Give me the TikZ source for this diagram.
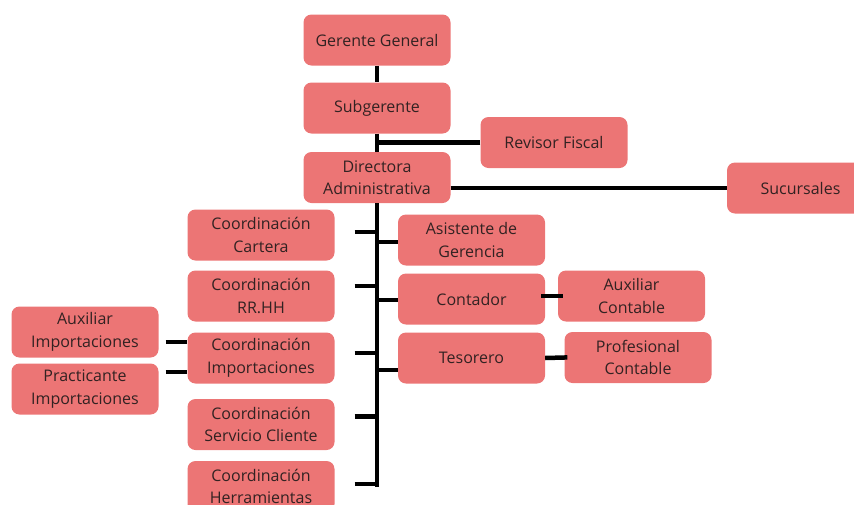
\documentclass[tikz,border=0pt]{standalone}
\usepackage{fontspec}
\setmainfont{Open Sans}
\definecolor{boxred}{RGB}{236,117,117}
\definecolor{boxtext}{RGB}{50,34,34}
\tikzset{
  cargo/.style={fill=boxred, text=boxtext, rounded corners=8pt, minimum width=147pt,
    minimum height=51pt, inner sep=0pt, align=center, font=\fontsize{16}{22.5}\selectfont},
  enlace/.style={line width=4.5pt, black}
}
\begin{document}
\begin{tikzpicture}[x=1pt, y=-1pt]
    \useasboundingbox (0,0) rectangle (854,504);
    \node[cargo] (GG) at (377,40) {Gerente General};
    \node[cargo] (SG) at (377,108) {Subgerente};
    \node[cargo] (RF) at (554,142.5) {Revisor Fiscal};
    \node[cargo] (DA) at (377,177.5) {Directora\\Administrativa};
    \node[cargo] (SU) at (800.5,188) {Sucursales};
    \node[cargo] (CC) at (261,235) {Coordinación\\Cartera};
    \node[cargo] (CR) at (261,296) {Coordinación\\RR.HH};
    \node[cargo] (CI) at (261,358) {Coordinación\\Importaciones};
    \node[cargo] (CS) at (261,424.5) {Coordinación\\Servicio Cliente};
    \node[cargo] (CH) at (261,486.5) {Coordinación\\Herramientas};
    \node[cargo] (AG) at (471.5,240) {Asistente de\\Gerencia};
    \node[cargo] (CO) at (471.5,299) {Contador};
    \node[cargo] (TE) at (471.5,358) {Tesorero};
    \node[cargo] (AC) at (631.5,296) {Auxiliar\\Contable};
    \node[cargo] (PC) at (638,357.5) {Profesional\\Contable};
    \node[cargo] (AI) at (85,332) {Auxiliar\\Importaciones};
    \node[cargo] (PI) at (85,389) {Practicante\\Importaciones};
    \coordinate (fin) at (377,486.5);
    \draw[enlace] (GG.south) -- (SG.north);
    \draw[enlace] (SG.south) -- (DA.north);
    \draw[enlace] (RF.west) -- (RF.west -| SG.south);
    \draw[enlace] (SU.west -| DA.east) -- (SU.west);
    \draw[enlace] (DA.south) -- (fin);
    \foreach \n/\s in {AG/-2, CO/-1, TE/-12}
        \draw[enlace] ([yshift=\s pt]\n.west) -- ([yshift=\s pt]\n.west -| fin);
    \foreach \n/\s in {CC/3, CR/10, CI/5, CS/8, CH/2.5}
        \draw[enlace] ([xshift=20pt,yshift=\s pt]\n.east) -- ([yshift=\s pt]\n.east -| fin);
    \draw[enlace] ([xshift=7pt,yshift=-10pt]AI.east) -- ([yshift=-10pt]AI.east -| CI.west);
    \draw[enlace] ([xshift=7pt,yshift=17pt]PI.east) -- ([yshift=17pt]PI.east -| CI.west);
    \draw[enlace, shorten <=-4pt, shorten >=-5pt] (AC.west -| CO.east) -- (AC.west);
    \draw[enlace, shorten >=-3pt] (TE.east) -- (PC.west);
\end{tikzpicture}
\end{document}
